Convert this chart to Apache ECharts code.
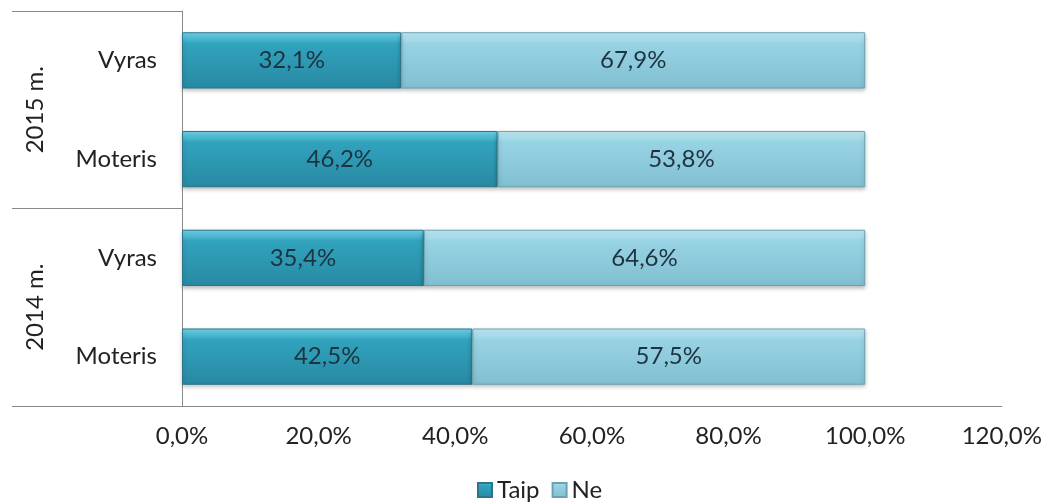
<!DOCTYPE html>
<html>
<head>
<meta charset="utf-8">
<script src="https://cdn.jsdelivr.net/npm/echarts@6/dist/echarts.min.js"></script>
<style>html,body{margin:0;padding:0;background:#fff}#c{width:1045px;height:504px}</style>
</head>
<body>
<div id="c"></div>
<script>
const categories = ['Moteris', 'Vyras', 'Moteris', 'Vyras'];
const groups = ['2014 m.', '2015 m.'];
const taip = [42.5, 35.4, 46.2, 32.1];
const ne = [57.5, 64.6, 53.8, 67.9];
const seriesNames = ['Taip', 'Ne'];

const FONT = 'Lato';
const FS = 24;
const fmt = v => v.toFixed(1).replace('.', ',') + '%';
const chart = echarts.init(document.getElementById('c'));

function grad(top, mid, bottom) {
  return new echarts.graphic.LinearGradient(0, 0, 0, 1, [
    {offset: 0, color: top}, {offset: 0.2, color: mid}, {offset: 1, color: bottom}
  ]);
}

chart.setOption({
  animation: false,
  grid: {left: 182, right: 43, top: 11, bottom: 98},
  legend: {
    bottom: -3, left: 472, icon: 'rect', itemWidth: 14, itemHeight: 14, itemGap: 12,
    textStyle: {fontFamily: FONT, fontSize: FS, color: '#222'},
    data: seriesNames
  },
  xAxis: {
    type: 'value', min: 0, max: 120, interval: 20,
    axisLine: {show: true, lineStyle: {color: '#8a8a8a', width: 1}},
    axisTick: {show: false},
    splitLine: {show: false},
    axisLabel: {fontFamily: FONT, fontSize: FS, color: '#222', margin: 18, formatter: fmt}
  },
  yAxis: [{
    type: 'category', data: categories,
    axisLine: {show: true, lineStyle: {color: '#8a8a8a'}},
    axisTick: {show: false},
    axisLabel: {fontFamily: FONT, fontSize: FS, color: '#222', margin: 25}
  }, {
    type: 'category', data: groups, position: 'left', offset: 170,
    axisLine: {show: false},
    axisTick: {show: true, inside: true, length: 170, lineStyle: {color: '#8a8a8a'}},
    axisLabel: {fontFamily: FONT, fontSize: FS, color: '#222', rotate: 90, inside: true, margin: 11}
  }],
  series: [{
    name: seriesNames[0], type: 'bar', stack: 's', yAxisIndex: 0, data: taip,
    barCategoryGap: '43%',
    itemStyle: {
      color: grad('#74d8ef', '#31a3bd', '#2889a3'),
      borderColor: '#2a7589', borderWidth: 1,
      shadowColor: 'rgba(0,0,0,0.25)', shadowBlur: 4, shadowOffsetY: 2
    },
    label: {show: true, position: 'inside', fontFamily: FONT, fontSize: FS, color: '#1d3340', formatter: p => fmt(p.value)}
  }, {
    name: seriesNames[1], type: 'bar', stack: 's', yAxisIndex: 0, data: ne,
    itemStyle: {
      color: grad('#c4edf7', '#98d3e4', '#80bfd1'),
      borderColor: '#6ba2b2', borderWidth: 1,
      shadowColor: 'rgba(0,0,0,0.25)', shadowBlur: 4, shadowOffsetY: 2
    },
    label: {show: true, position: 'inside', fontFamily: FONT, fontSize: FS, color: '#1d3340', formatter: p => fmt(p.value)}
  }]
});
</script>
</body>
</html>
